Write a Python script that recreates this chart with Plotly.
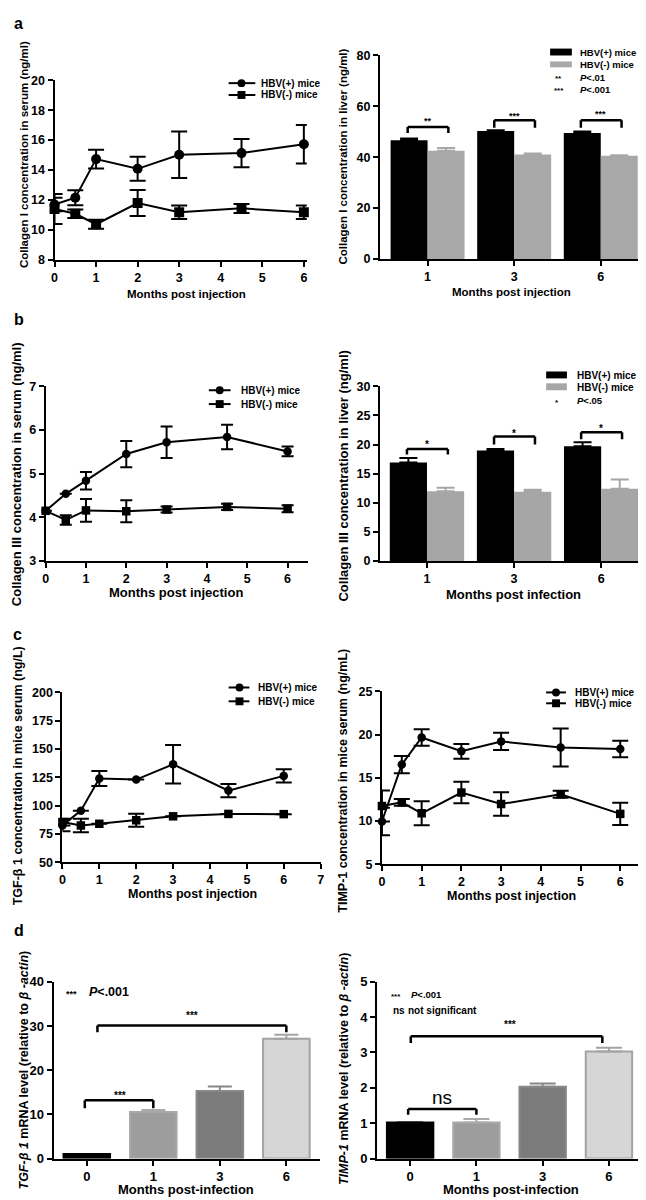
import plotly.graph_objects as go

W, H = 646, 1200
FONT = 'Arial, "Liberation Sans", sans-serif'

# ---------------- data ----------------
months = [0, 0.5, 1, 2, 3, 4.5, 6]

aL_pos = [11.7, 12.15, 14.73, 14.08, 15.02, 15.13, 15.72]
aL_pos_err = [0.45, 0.5, 0.63, 0.8, 1.55, 0.95, 1.28]
aL_neg = [11.4, 11.08, 10.38, 11.8, 11.18, 11.44, 11.18]
aL_neg_err = [1.0, 0.28, 0.3, 0.87, 0.45, 0.3, 0.45]

bL_pos = [4.15, 4.54, 4.84, 5.45, 5.72, 5.84, 5.51]
bL_pos_err = [None, None, 0.2, 0.3, 0.36, 0.28, 0.11]
bL_neg = [4.15, 3.94, 4.16, 4.14, 4.18, 4.24, 4.2]
bL_neg_err = [None, 0.11, 0.26, 0.25, 0.07, 0.07, 0.08]

cL_pos = [82.5, 95.6, 124, 123, 136.5, 113.3, 126.3]
cL_pos_err = [5, None, 6.7, None, 17, 5.8, 5.8]
cL_neg = [85.5, 82.5, 84, 87.1, 90.6, 92.7, 92.5]
cL_neg_err = [3, 6, None, 5.8, None, None, None]

cR_pos = [9.95, 16.54, 19.67, 18.07, 19.21, 18.52, 18.33]
cR_pos_err = [1.6, 1.0, 0.95, 0.85, 1.0, 2.2, 0.95]
cR_neg = [11.74, 12.16, 10.9, 13.3, 11.97, 13.1, 10.83]
cR_neg_err = [1.8, 0.4, 1.4, 1.25, 1.35, 0.4, 1.3]

liver_months = ['1', '3', '6']
aR_pos = [46.7, 50.3, 49.5]
aR_pos_err = [0.7, 0.3, 0.6]
aR_neg = [42.5, 41.1, 40.6]
aR_neg_err = [1.1, 0.4, 0.2]

bR_pos = [16.9, 19.0, 19.7]
bR_pos_err = [0.8, 0.25, 0.7]
bR_neg = [12.0, 11.9, 12.4]
bR_neg_err = [0.6, 0.35, 1.6]

mrna_months = ['0', '1', '3', '6']
dL_vals = [1.0, 10.5, 15.3, 27.1]
dL_err = [0.0, 0.5, 1.0, 0.9]
dR_vals = [1.02, 1.02, 2.03, 3.03]
dR_err = [0.0, 0.1, 0.09, 0.1]

# ---------------- helpers ----------------
def fx(p):
    return p / W

def fy(p):
    return 1 - p / H

def xdom(a, b):
    return [fx(a), fx(b)]

def ydom(top, bottom):
    return [fy(bottom), fy(top)]

def axis(domain, rng, anchor, dtick=None, tick0=None, size=12.5, cats=None):
    d = dict(domain=domain, range=rng, anchor=anchor, showline=True,
             linecolor='black', linewidth=2, ticks='outside', ticklen=5,
             tickwidth=2, tickcolor='black', showgrid=False, zeroline=False,
             fixedrange=True,
             tickfont=dict(family=FONT, size=size, color='black', weight='bold'))
    if dtick is not None:
        d.update(tickmode='linear', tick0=tick0, dtick=dtick)
    if cats is not None:
        d.update(type='category', categoryorder='array', categoryarray=cats)
    return d

fig = go.Figure()
shapes = []
annos = []

def ax_names(k):
    return ('x' if k == 1 else f'x{k}'), ('y' if k == 1 else f'y{k}')

def text(t, x, y, size, xanchor='center', yanchor='middle', angle=0,
         bold=True, xref='paper', yref='paper', yshift=0):
    annos.append(dict(text=t, x=x, y=y, xref=xref, yref=yref, showarrow=False,
                      xanchor=xanchor, yanchor=yanchor, textangle=angle,
                      yshift=yshift,
                      font=dict(family=FONT, size=size, color='black',
                                weight='bold' if bold else 'normal')))

def ptext(t, px, py, size, **kw):
    text(t, fx(px), fy(py), size, **kw)

def pseg(x0, y0, x1, y1, w=2, color='black'):
    shapes.append(dict(type='line', xref='paper', yref='paper', x0=fx(x0), y0=fy(y0),
                       x1=fx(x1), y1=fy(y1), line=dict(color=color, width=w)))

def prect(x0, y0, x1, y1, color):
    shapes.append(dict(type='rect', xref='paper', yref='paper', x0=fx(x0), y0=fy(y1),
                       x1=fx(x1), y1=fy(y0), fillcolor=color, line=dict(width=0)))

def pcircle(cx, cy, r):
    shapes.append(dict(type='circle', xref='paper', yref='paper', x0=fx(cx - r), x1=fx(cx + r),
                       y0=fy(cy + r), y1=fy(cy - r), fillcolor='black', line=dict(width=0)))

def line_legend(x0, x1, xm, y1, y2, xt, size=10, r=4):
    pseg(x0, y1, x1, y1)
    pcircle(xm, y1, r)
    pseg(x0, y2, x1, y2)
    prect(xm - r, y2 - r, xm + r, y2 + r, 'black')
    ptext('HBV(+) mice', xt, y1, size, xanchor='left')
    ptext('HBV(-) mice', xt, y2, size, xanchor='left')

def bracket(k, x0, x1, top, leg, w=2.5):
    xa, ya = ax_names(k)
    for (a, b, c, d) in [(x0, leg, x0, top), (x0, top, x1, top), (x1, top, x1, leg)]:
        shapes.append(dict(type='line', xref=xa, yref=ya, x0=a, y0=b, x1=c, y1=d,
                           line=dict(color='black', width=w)))

def line_panel(k, pos, pos_err, neg, neg_err, msize, capw):
    xa, ya = ax_names(k)
    for vals, err, sym, name in [(neg, neg_err, 'square', 'HBV(-) mice'),
                                 (pos, pos_err, 'circle', 'HBV(+) mice')]:
        fig.add_trace(go.Scatter(
            x=months, y=vals, mode='lines+markers', name=name, showlegend=False,
            xaxis=xa, yaxis=ya, cliponaxis=False,
            line=dict(color='black', width=2),
            marker=dict(symbol=sym, size=msize, color='black'),
            error_y=dict(type='data', array=err, symmetric=True, color='black',
                         thickness=2, width=capw)))

def group_bar_panel(k, pos, pos_err, neg, neg_err, gray, bw=0.427):
    xa, ya = ax_names(k)
    for vals, err, col, off, name in [(pos, pos_err, 'black', -bw, 'HBV(+) mice'),
                                      (neg, neg_err, gray, 0, 'HBV(-) mice')]:
        fig.add_trace(go.Bar(
            x=liver_months, y=vals, name=name, showlegend=False, xaxis=xa, yaxis=ya,
            offset=off, width=bw, marker=dict(color=col, line=dict(width=0)),
            error_y=dict(type='data', symmetric=False, array=err,
                         arrayminus=[0] * len(err), color=col, thickness=2, width=9)))

D_FILL = ['#000000', '#9d9d9d', '#7b7b7b', '#d6d6d6']
D_LINE = ['#000000', '#a9a9a9', '#878787', '#a3a3a3']

def mrna_panel(k, vals, err, capw):
    xa, ya = ax_names(k)
    for i, cat in enumerate(mrna_months):
        fig.add_trace(go.Bar(
            x=[cat], y=[vals[i]], showlegend=False, xaxis=xa, yaxis=ya,
            offset=-0.35, width=0.7,
            marker=dict(color=D_FILL[i], line=dict(color=D_LINE[i], width=2)),
            error_y=dict(type='data', symmetric=False, array=[err[i]], arrayminus=[0],
                         color=D_LINE[i], thickness=2, width=capw)))

# ---------------- panel a ----------------
line_panel(1, aL_pos, aL_pos_err, aL_neg, aL_neg_err, 10, 8)
group_bar_panel(2, aR_pos, aR_pos_err, aR_neg, aR_neg_err, '#a8a8a8')

# ---------------- panel b ----------------
line_panel(3, bL_pos, bL_pos_err, bL_neg, bL_neg_err, 8.5, 6)
group_bar_panel(4, bR_pos, bR_pos_err, bR_neg, bR_neg_err, '#a6a6a6')

# ---------------- panel c ----------------
line_panel(5, cL_pos, cL_pos_err, cL_neg, cL_neg_err, 8.5, 8)
line_panel(6, cR_pos, cR_pos_err, cR_neg, cR_neg_err, 8.5, 8)

# ---------------- panel d ----------------
mrna_panel(7, dL_vals, dL_err, 12)
mrna_panel(8, dR_vals, dR_err, 13)

layout_axes = {
    'xaxis': axis(xdom(44, 299), [0, 6.07], 'y', dtick=1, tick0=0),
    'yaxis': axis(ydom(66, 248), [8, 20], 'x', dtick=2, tick0=8),
    'xaxis2': axis(xdom(373, 640), [-0.55, 2.5], 'y2', cats=liver_months),
    'yaxis2': axis(ydom(41, 247), [0, 80], 'x2', dtick=20, tick0=0),
    'xaxis3': axis(xdom(35, 300), [0, 6.5], 'y3', dtick=1, tick0=0),
    'yaxis3': axis(ydom(376, 553), [3, 7], 'x3', dtick=1, tick0=3),
    'xaxis4': axis(xdom(373, 638), [-0.54, 2.47], 'y4', cats=liver_months),
    'yaxis4': axis(ydom(376, 553), [0, 30], 'x4', dtick=5, tick0=0),
    'xaxis5': axis(xdom(52, 313), [0, 7], 'y5', dtick=1, tick0=0),
    'yaxis5': axis(ydom(686, 858), [50, 200], 'x5', dtick=25, tick0=50),
    'xaxis6': axis(xdom(375, 636), [0, 6.5], 'y6', dtick=1, tick0=0),
    'yaxis6': axis(ydom(685, 860), [5, 25], 'x6', dtick=5, tick0=5),
    'xaxis7': axis(xdom(43, 312), [-0.5, 3.5], 'y7', size=13, cats=mrna_months),
    'yaxis7': axis(ydom(979, 1158), [0, 40], 'x7', dtick=10, tick0=0, size=13),
    'xaxis8': axis(xdom(370, 636), [-0.5, 3.47], 'y8', size=13, cats=mrna_months),
    'yaxis8': axis(ydom(979, 1158), [0, 5], 'x8', dtick=1, tick0=0, size=13),
}

# ---------------- brackets and stars ----------------
bracket(2, -0.23, 0.24, 51.9, 49.5)
bracket(2, 0.77, 1.24, 54.5, 51.6)
bracket(2, 1.77, 2.24, 54.5, 51.6)
for xi, yi, s in [(0, 55.5, '**'), (1, 57.5, '***'), (2, 58.0, '***')]:
    text(s, xi, yi, 9, xref='x2', yref='y2', yshift=-3)

bracket(4, -0.23, 0.24, 19.25, 18.3)
bracket(4, 0.77, 1.24, 21.4, 20.0)
bracket(4, 1.77, 2.24, 22.1, 20.9)
for xi, yi in [(0, 20.5), (1, 22.4), (2, 23.2)]:
    text('*', xi, yi, 10, xref='x4', yref='y4', yshift=-3)

bracket(7, -0.03, 1.0, 13.2, 11.4)
bracket(7, 0.16, 3.0, 30.1, 28.6)
text('***', 0.5, 15.0, 10, xref='x7', yref='y7', yshift=-3)
text('***', 1.58, 33.0, 10, xref='x7', yref='y7', yshift=-3)

bracket(8, -0.03, 1.0, 1.40, 1.24)
bracket(8, 0.01, 2.9, 3.46, 3.27)
text('ns', 0.48, 1.72, 19, xref='x8', yref='y8', bold=False)
text('***', 1.5, 3.87, 10, xref='x8', yref='y8', yshift=-3)

# ---------------- legends ----------------
line_legend(220, 247, 233, 69, 81, 251)
line_legend(200, 222, 211, 380, 394, 230)
line_legend(220, 241, 231, 681, 695, 248)
line_legend(541, 561, 551, 686, 697, 568)

prect(545, 34, 567, 41, 'black')
prect(545, 47, 567, 53, '#a8a8a8')
ptext('HBV(+) mice', 573, 37.5, 9.5, xanchor='left')
ptext('HBV(-) mice', 573, 50.5, 9.5, xanchor='left')
ptext('**', 554, 62.5, 8, yshift=-2)
ptext('***', 554, 74.5, 8, yshift=-2)
ptext('<i>P</i>&lt;.01', 573, 63, 9.5, xanchor='left')
ptext('<i>P</i>&lt;.001', 573, 75, 9.5, xanchor='left')

prect(541, 361, 562, 368, 'black')
prect(541, 373, 562, 380, '#a6a6a6')
ptext('HBV(+) mice', 570, 365, 10, xanchor='left')
ptext('HBV(-) mice', 570, 377, 10, xanchor='left')
ptext('*', 552, 390, 8, yshift=-2)
ptext('<i>P</i>&lt;.05', 570, 390, 9.5, xanchor='left')

ptext('***', 61, 989, 9, yshift=-2)
ptext('<i>P</i>&lt;.001', 77, 989, 12.5, xanchor='left')
ptext('***', 389, 992, 8, yshift=-2)
ptext('<i>P</i>&lt;.001', 402, 992, 9.5, xanchor='left')
ptext('ns', 384, 1008, 10, xanchor='left')
ptext('not significant', 399, 1008, 10, xanchor='left')

# ---------------- axis titles ----------------
ptext('Collagen I concentration in serum (ng/ml)', 13, 141, 11.5, angle=-90)
ptext('Months post injection', 177, 283, 11.5)
ptext('Collagen I concentration in liver (ng/ml)', 336, 143, 11.5, angle=-90)
ptext('Months post injection', 506, 281, 11.5)

ptext('Collagen III concentration in serum (ng/ml)', 5, 465, 13, angle=-90)
ptext('Months post injection', 167, 585, 13)
ptext('Collagen III concentration in liver (ng/ml)', 336, 467, 13, angle=-90)
ptext('Months post infection', 508, 587, 13)

ptext('TGF-β 1 concentration in mice serum (ng/L)', 7, 770, 12.5, angle=-90)
ptext('Months post injection', 183, 890, 12.5)
ptext('TIMP-1 concentration in mice serum (ng/mL)', 336, 775, 12.5, angle=-90)
ptext('Months post injection', 506, 892, 12.5)

ptext('<i>TGF-β 1</i> mRNA level (relative to <i>β -actin</i>)', 13, 1068, 12.5, angle=-90)
ptext('Months post-infection', 177, 1189, 13)
ptext('<i>TIMP-1</i> mRNA level (relative to <i>β -actin</i>)', 336, 1067, 12.5, angle=-90)
ptext('Months post-infection', 505, 1189, 13)

# panel letters
ptext('a', 8, 9, 16)
ptext('b', 8, 308, 16)
ptext('c', 7, 627, 16)
ptext('d', 8, 927, 16)

fig.update_layout(
    width=W, height=H, margin=dict(l=0, r=0, t=0, b=0),
    paper_bgcolor='white', plot_bgcolor='white', showlegend=False,
    font=dict(family=FONT, color='black'),
    shapes=shapes, annotations=annos, **layout_axes)

fig.write_html('out.html')
